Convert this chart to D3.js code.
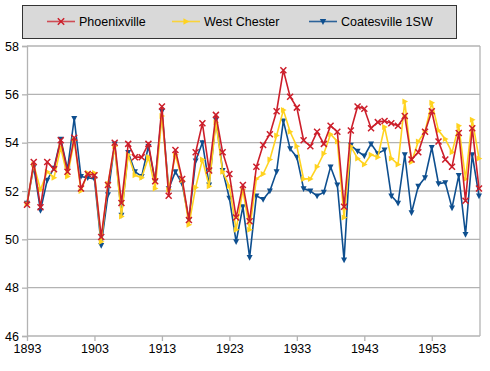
<!DOCTYPE html>
<html><head><meta charset="utf-8">
<script src="https://cdn.jsdelivr.net/npm/d3@7/dist/d3.min.js"></script>
<style>body{margin:0;background:#fff}svg{display:block}text{font-family:"Liberation Sans",Arial,sans-serif;fill:#000}</style>
</head><body><svg id="c" width="490" height="371"></svg>
<script>
const years = d3.range(1893, 1961);
const phoenixville = [51.43,53.2,51.33,53.2,52.9,54.1,52.8,54.2,52.1,52.7,52.65,50.1,52.25,54.0,51.5,53.95,53.4,53.4,53.95,52.4,55.5,51.8,53.7,52.5,50.8,53.6,54.8,52.85,55.15,53.6,52.7,50.9,52.25,50.75,53.0,53.9,54.35,55.3,57.0,55.9,55.45,54.1,53.85,54.45,53.95,54.7,54.45,51.35,54.5,55.5,55.4,54.6,54.85,54.9,54.8,54.7,55.1,53.3,53.6,54.45,55.3,54.05,53.3,53.0,54.4,51.6,54.6,52.1];
const westChester = [51.45,53.1,52.05,52.8,52.55,53.8,52.6,54.1,52.0,52.75,52.75,49.9,52.3,53.85,50.95,53.5,52.65,52.55,53.4,52.1,55.1,52.05,53.5,52.45,50.6,52.15,53.3,52.2,54.85,52.8,52.2,50.4,52.05,50.4,52.5,52.7,53.3,54.3,55.35,54.45,53.85,52.5,52.5,53.0,53.55,54.35,54.05,50.9,53.85,53.35,53.1,53.5,53.4,54.65,53.35,53.1,55.7,53.2,54.05,54.45,55.65,54.5,54.15,53.6,54.7,52.5,54.95,53.35];
const coatesville = [51.5,53.0,51.2,52.45,52.95,54.15,52.9,55.0,52.6,52.55,52.5,49.75,51.85,53.95,51.0,53.6,52.8,52.6,53.85,52.4,55.3,52.1,52.8,52.3,50.8,53.25,54.0,52.25,54.95,52.85,51.7,49.9,51.35,49.25,51.8,51.65,52.0,52.8,54.9,53.75,53.4,52.1,52.0,51.8,51.95,53.0,52.25,49.15,53.9,53.65,53.45,53.95,53.55,53.7,51.8,51.5,53.5,51.1,52.2,52.55,53.8,52.3,52.35,51.3,52.65,50.2,53.5,51.8];
const yTicks = [46,48,50,52,54,56,58];
const xTicks = [1893,1903,1913,1923,1933,1943,1953];
const seriesNames = ["Phoenixville","West Chester","Coatesville 1SW"];

const svg = d3.select("#c");
const x = d3.scaleLinear().domain([1893,1960]).range([27,479]);
const y = d3.scaleLinear().domain([46,58]).range([336,46]);
const gridC = "#b3b3b3";

svg.append("g").selectAll("line").data(yTicks.filter(v=>v>46)).join("line")
  .attr("x1",27).attr("x2",480).attr("y1",d=>y(d)).attr("y2",d=>y(d))
  .attr("stroke",gridC).attr("stroke-width",1.3);
svg.append("line").attr("x1",480).attr("x2",480).attr("y1",y(58)).attr("y2",y(46)).attr("stroke",gridC).attr("stroke-width",1.3);

const yAxis = svg.append("g").attr("transform","translate(27,0)")
  .call(d3.axisLeft(y).tickValues(yTicks).tickSize(5).tickPadding(3).tickFormat(d3.format("d")));
const xAxis = svg.append("g").attr("transform",`translate(0,${y(46)})`)
  .call(d3.axisBottom(x).tickValues(xTicks).tickSize(5).tickPadding(3).tickFormat(d3.format("d")));
[yAxis,xAxis].forEach(a=>{
  a.select(".domain").attr("stroke",gridC).attr("stroke-width",1.3);
  a.selectAll(".tick line").attr("stroke",gridC).attr("stroke-width",1.3);
  a.selectAll("text").style("font-family",'"Liberation Sans",Arial,sans-serif').style("font-size","12.5px").attr("fill","#000");
});
xAxis.select(".domain").attr("d",`M27,0H480`);

const colors = ["#cc1e2a","#ffd320","#0e4f8f"];
const data = [phoenixville, westChester, coatesville];
const line = d3.line().x((d,i)=>x(years[i])).y(d=>y(d));

function marker(g, type, col, size){
  const s=size;
  if(type===0){
    g.append("path").attr("d",`M${-s},${-s}L${s},${s}M${-s},${s}L${s},${-s}`).attr("stroke",col).attr("stroke-width",1.5).attr("fill","none");
  } else if(type===1){
    g.append("path").attr("d",`M${-s*0.8},${-s}L${s*1.1},0L${-s*0.8},${s}Z`).attr("fill",col);
  } else {
    g.append("path").attr("d",`M${-s},${-s*0.8}L${s},${-s*0.8}L0,${s*1.1}Z`).attr("fill",col);
  }
}

[2,1,0].forEach(k=>{
  const g = svg.append("g");
  g.append("path").datum(data[k]).attr("d",line).attr("fill","none").attr("stroke",colors[k]).attr("stroke-width",1.6);
  data[k].forEach((v,i)=>{
    const m = g.append("g").attr("transform",`translate(${x(years[i])},${y(v)})`);
    marker(m,k,colors[k],3);
  });
});

const lg = svg.append("g");
lg.append("rect").attr("x",22.5).attr("y",5.5).attr("width",434).attr("height",33).attr("fill","#d9d9d9").attr("stroke","#333").attr("stroke-width",1);
const lx=[47,172,309];
seriesNames.forEach((n,k)=>{
  lg.append("line").attr("x1",lx[k]).attr("x2",lx[k]+28).attr("y1",21.5).attr("y2",21.5).attr("stroke",colors[k]).attr("stroke-width",1.6).attr("opacity",k===0?0.75:0.85);
  const m = lg.append("g").attr("transform",`translate(${lx[k]+14},21.5)`);
  marker(m,k,colors[k],3.2);
  lg.append("text").attr("x",lx[k]+32).attr("y",26).style("font-size","12.5px").text(n);
});
</script></body></html>
